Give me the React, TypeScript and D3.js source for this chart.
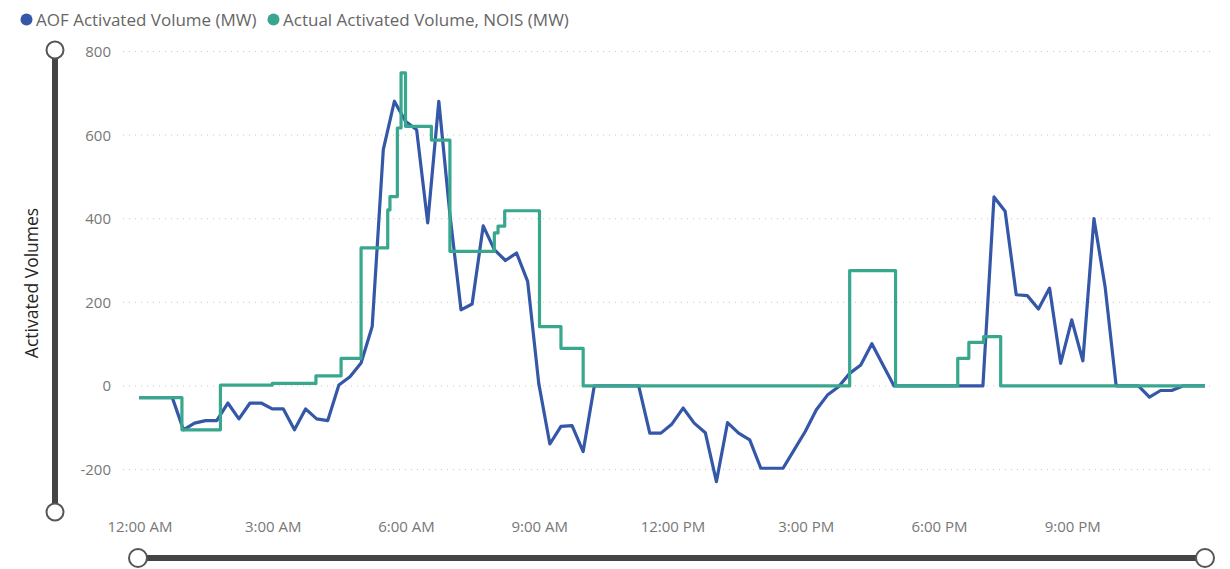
import React from "react";
import * as d3 from "d3";

// ---- data ----
const seriesNames = ["AOF Activated Volume (MW)", "Actual Activated Volume, NOIS (MW)"];
const seriesColors = ["#3457A8", "#38A78D"];

// AOF: quarter-hour samples from 00:00 to 24:00
const aofTimes = [
  "00:00","00:15","00:30","00:45","01:00","01:15","01:30","01:45",
  "02:00","02:15","02:30","02:45","03:00","03:15","03:30","03:45",
  "04:00","04:15","04:30","04:45","05:00","05:15","05:30","05:45",
  "06:00","06:15","06:30","06:45","07:00","07:15","07:30","07:45",
  "08:00","08:15","08:30","08:45","09:00","09:15","09:30","09:45",
  "10:00","10:15","10:30","10:45","11:00","11:15","11:30","11:45",
  "12:00","12:15","12:30","12:45","13:00","13:15","13:30","13:45",
  "14:00","14:15","14:30","14:45","15:00","15:15","15:30","15:45",
  "16:00","16:15","16:30","16:45","17:00","17:15","17:30","17:45",
  "18:00","18:15","18:30","18:45","19:00","19:15","19:30","19:45",
  "20:00","20:15","20:30","20:45","21:00","21:15","21:30","21:45",
  "22:00","22:15","22:30","22:45","23:00","23:15","23:30","23:45","24:00"
];
const aofValues = [
  -28, -28, -28, -28, -105, -89, -83, -83,
  -41, -79, -41, -41, -55, -55, -105, -55,
  -79, -83, 2, 22, 55, 142, 565, 681,
  633, 613, 390, 681, 410, 182, 196, 383,
  326, 300, 318, 250, 6, -139, -97, -95,
  -157, 0, 0, 0, 0, 0, -113, -113,
  -91, -53, -89, -112, -229, -88, -113, -129,
  -197, -197, -197, -153, -109, -57, -22, -2,
  30, 50, 101, 50, 0, 0, 0, 0,
  0, 0, 0, 0, 0, 452, 418, 218,
  216, 184, 234, 54, 158, 60, 400, 238,
  0, 0, 0, -27, -11, -11, 0, 0, 0
];

// NOIS: step changes (time, value held until next change)
const noisTimes = [
  "00:00","00:58","01:50","03:00","03:59","04:33","05:00","05:36","05:39",
  "05:49","05:54","06:00","06:35","07:00","08:00","08:05","08:14","09:01",
  "09:30","10:00","16:00","17:02","18:26","18:41","19:01","19:24","24:00"
];
const noisValues = [
  -28, -105, 2, 6, 24, 66, 330, 421, 453,
  617, 749, 621, 588, 322, 366, 382, 419, 142,
  90, 0, 276, 0, 66, 104, 118, 0, 0
];

const yTicks = [-200, 0, 200, 400, 600, 800];
const xTickHours = [0, 3, 6, 9, 12, 15, 18, 21];
const xTickLabels = ["12:00 AM", "3:00 AM", "6:00 AM", "9:00 AM", "12:00 PM", "3:00 PM", "6:00 PM", "9:00 PM"];
const yAxisTitle = "Activated Volumes";

const toHours = (s: string) => {
  const [h, m] = s.split(":").map(Number);
  return h + m / 60;
};

export default function App() {
  const W = 1230, H = 569;
  const x = d3.scaleLinear().domain([0, 24]).range([139, 1205]);
  const y = d3.scaleLinear().domain([-200, 800]).range([469.5, 51.5]);

  const aof = aofTimes.map((t, i) => ({ t: toHours(t), v: aofValues[i] }));
  const nois = noisTimes.map((t, i) => ({ t: toHours(t), v: noisValues[i] }));

  const lineLin = d3.line<{ t: number; v: number }>().x(d => x(d.t)).y(d => y(d.v));
  const lineStep = d3.line<{ t: number; v: number }>().x(d => x(d.t)).y(d => y(d.v)).curve(d3.curveStepAfter);

  const font = "'Segoe UI', 'Open Sans', 'Noto Sans', sans-serif";

  return (
    <svg width={W} height={H} style={{ position: "absolute", left: 0, top: 0, background: "#fff" }} fontFamily={font}>
      {/* legend */}
      <g>
        <circle cx={26.5} cy={19.5} r={6} fill={seriesColors[0]} />
        <text x={36} y={26} fontSize={17} fill="#666">{seriesNames[0]}</text>
        <circle cx={273.5} cy={19.5} r={6} fill={seriesColors[1]} />
        <text x={283} y={26} fontSize={17} fill="#666">{seriesNames[1]}</text>
      </g>

      {/* gridlines */}
      {yTicks.map(t => (
        <line key={t} x1={123} x2={1215} y1={y(t)} y2={y(t)} stroke="#C8C8C8" strokeWidth={1} strokeDasharray="1 5" />
      ))}

      {/* y tick labels */}
      {yTicks.map(t => (
        <text key={"l" + t} x={111} y={y(t) + 5.5} textAnchor="end" fontSize={15} fill="#777">{t}</text>
      ))}

      {/* y axis title */}
      <text transform={`translate(38,${283}) rotate(-90)`} textAnchor="middle" fontSize={17.5} fill="#252423">{yAxisTitle}</text>

      {/* vertical slider */}
      <line x1={55} x2={55} y1={50} y2={512} stroke="#444" strokeWidth={6} />
      <circle cx={55} cy={50} r={8.5} fill="#fff" stroke="#555" strokeWidth={2} />
      <circle cx={55} cy={512} r={8.5} fill="#fff" stroke="#555" strokeWidth={2} />

      {/* x tick labels */}
      {xTickHours.map((h, i) => (
        <text key={h} x={x(h) + 1} y={532} textAnchor="middle" fontSize={15} fill="#777">{xTickLabels[i]}</text>
      ))}

      {/* horizontal slider */}
      <line x1={138} x2={1205} y1={558} y2={558} stroke="#444" strokeWidth={6} />
      <circle cx={138} cy={558} r={9} fill="#fff" stroke="#555" strokeWidth={2} />
      <circle cx={1205} cy={558} r={9} fill="#fff" stroke="#555" strokeWidth={2} />

      {/* series */}
      <path d={lineLin(aof) || ""} fill="none" stroke={seriesColors[0]} strokeWidth={3.2} strokeLinejoin="round" />
      <path d={lineStep(nois) || ""} fill="none" stroke={seriesColors[1]} strokeWidth={3.2} strokeLinejoin="round" />
    </svg>
  );
}
